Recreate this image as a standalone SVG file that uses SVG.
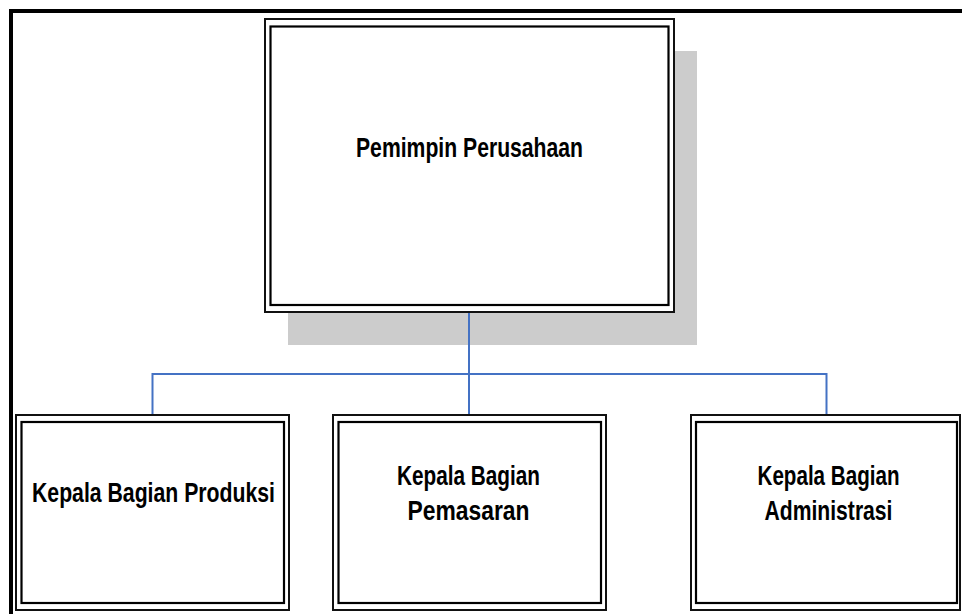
<svg xmlns="http://www.w3.org/2000/svg" width="962" height="614" viewBox="0 0 962 614">
<style>
.outer{fill:#fff;stroke:#111;stroke-width:2}
.inner{fill:none;stroke:#000;stroke-width:2.2}
.lbl{font-family:"Liberation Sans Narrow","Liberation Sans",Arial,sans-serif;font-weight:bold;font-size:28.5px;fill:#000;text-anchor:middle}
.conn{fill:none;stroke:#4472C4;stroke-width:2}
</style>
<rect width="962" height="614" fill="#fff"/>
<path d="M11,614 V11 H962" fill="none" stroke="#000" stroke-width="4"/>
<rect x="288" y="51" width="409" height="294" fill="#cccccc"/>
<g id="connectors">
<path class="conn" d="M469,312 V414"/>
<path class="conn" d="M152.5,414 V374 H826.5 V414"/>
</g>
<g id="node-pemimpin">
<rect class="outer" x="265" y="19" width="409" height="293"/>
<rect class="inner" x="270.5" y="26.5" width="398" height="278.5"/>
<text class="lbl" x="469.5" y="157" textLength="227" lengthAdjust="spacingAndGlyphs">Pemimpin Perusahaan</text>
</g>
<g id="node-produksi">
<rect class="outer" x="16" y="415" width="273" height="195"/>
<rect class="inner" x="21.5" y="422" width="262.5" height="181"/>
<text class="lbl" x="153.5" y="502" textLength="243" lengthAdjust="spacingAndGlyphs">Kepala Bagian Produksi</text>
</g>
<g id="node-pemasaran">
<rect class="outer" x="333" y="415" width="273" height="195"/>
<rect class="inner" x="338.5" y="422" width="262.5" height="181"/>
<text class="lbl" x="468.5" y="485" textLength="143" lengthAdjust="spacingAndGlyphs">Kepala Bagian</text>
<text class="lbl" x="468.5" y="520" textLength="122" lengthAdjust="spacingAndGlyphs">Pemasaran</text>
</g>
<g id="node-administrasi">
<rect class="outer" x="691" y="415" width="269" height="195"/>
<rect class="inner" x="696" y="422" width="261" height="181"/>
<text class="lbl" x="828.5" y="485" textLength="142" lengthAdjust="spacingAndGlyphs">Kepala Bagian</text>
<text class="lbl" x="828.5" y="520" textLength="128" lengthAdjust="spacingAndGlyphs">Administrasi</text>
</g>
</svg>
